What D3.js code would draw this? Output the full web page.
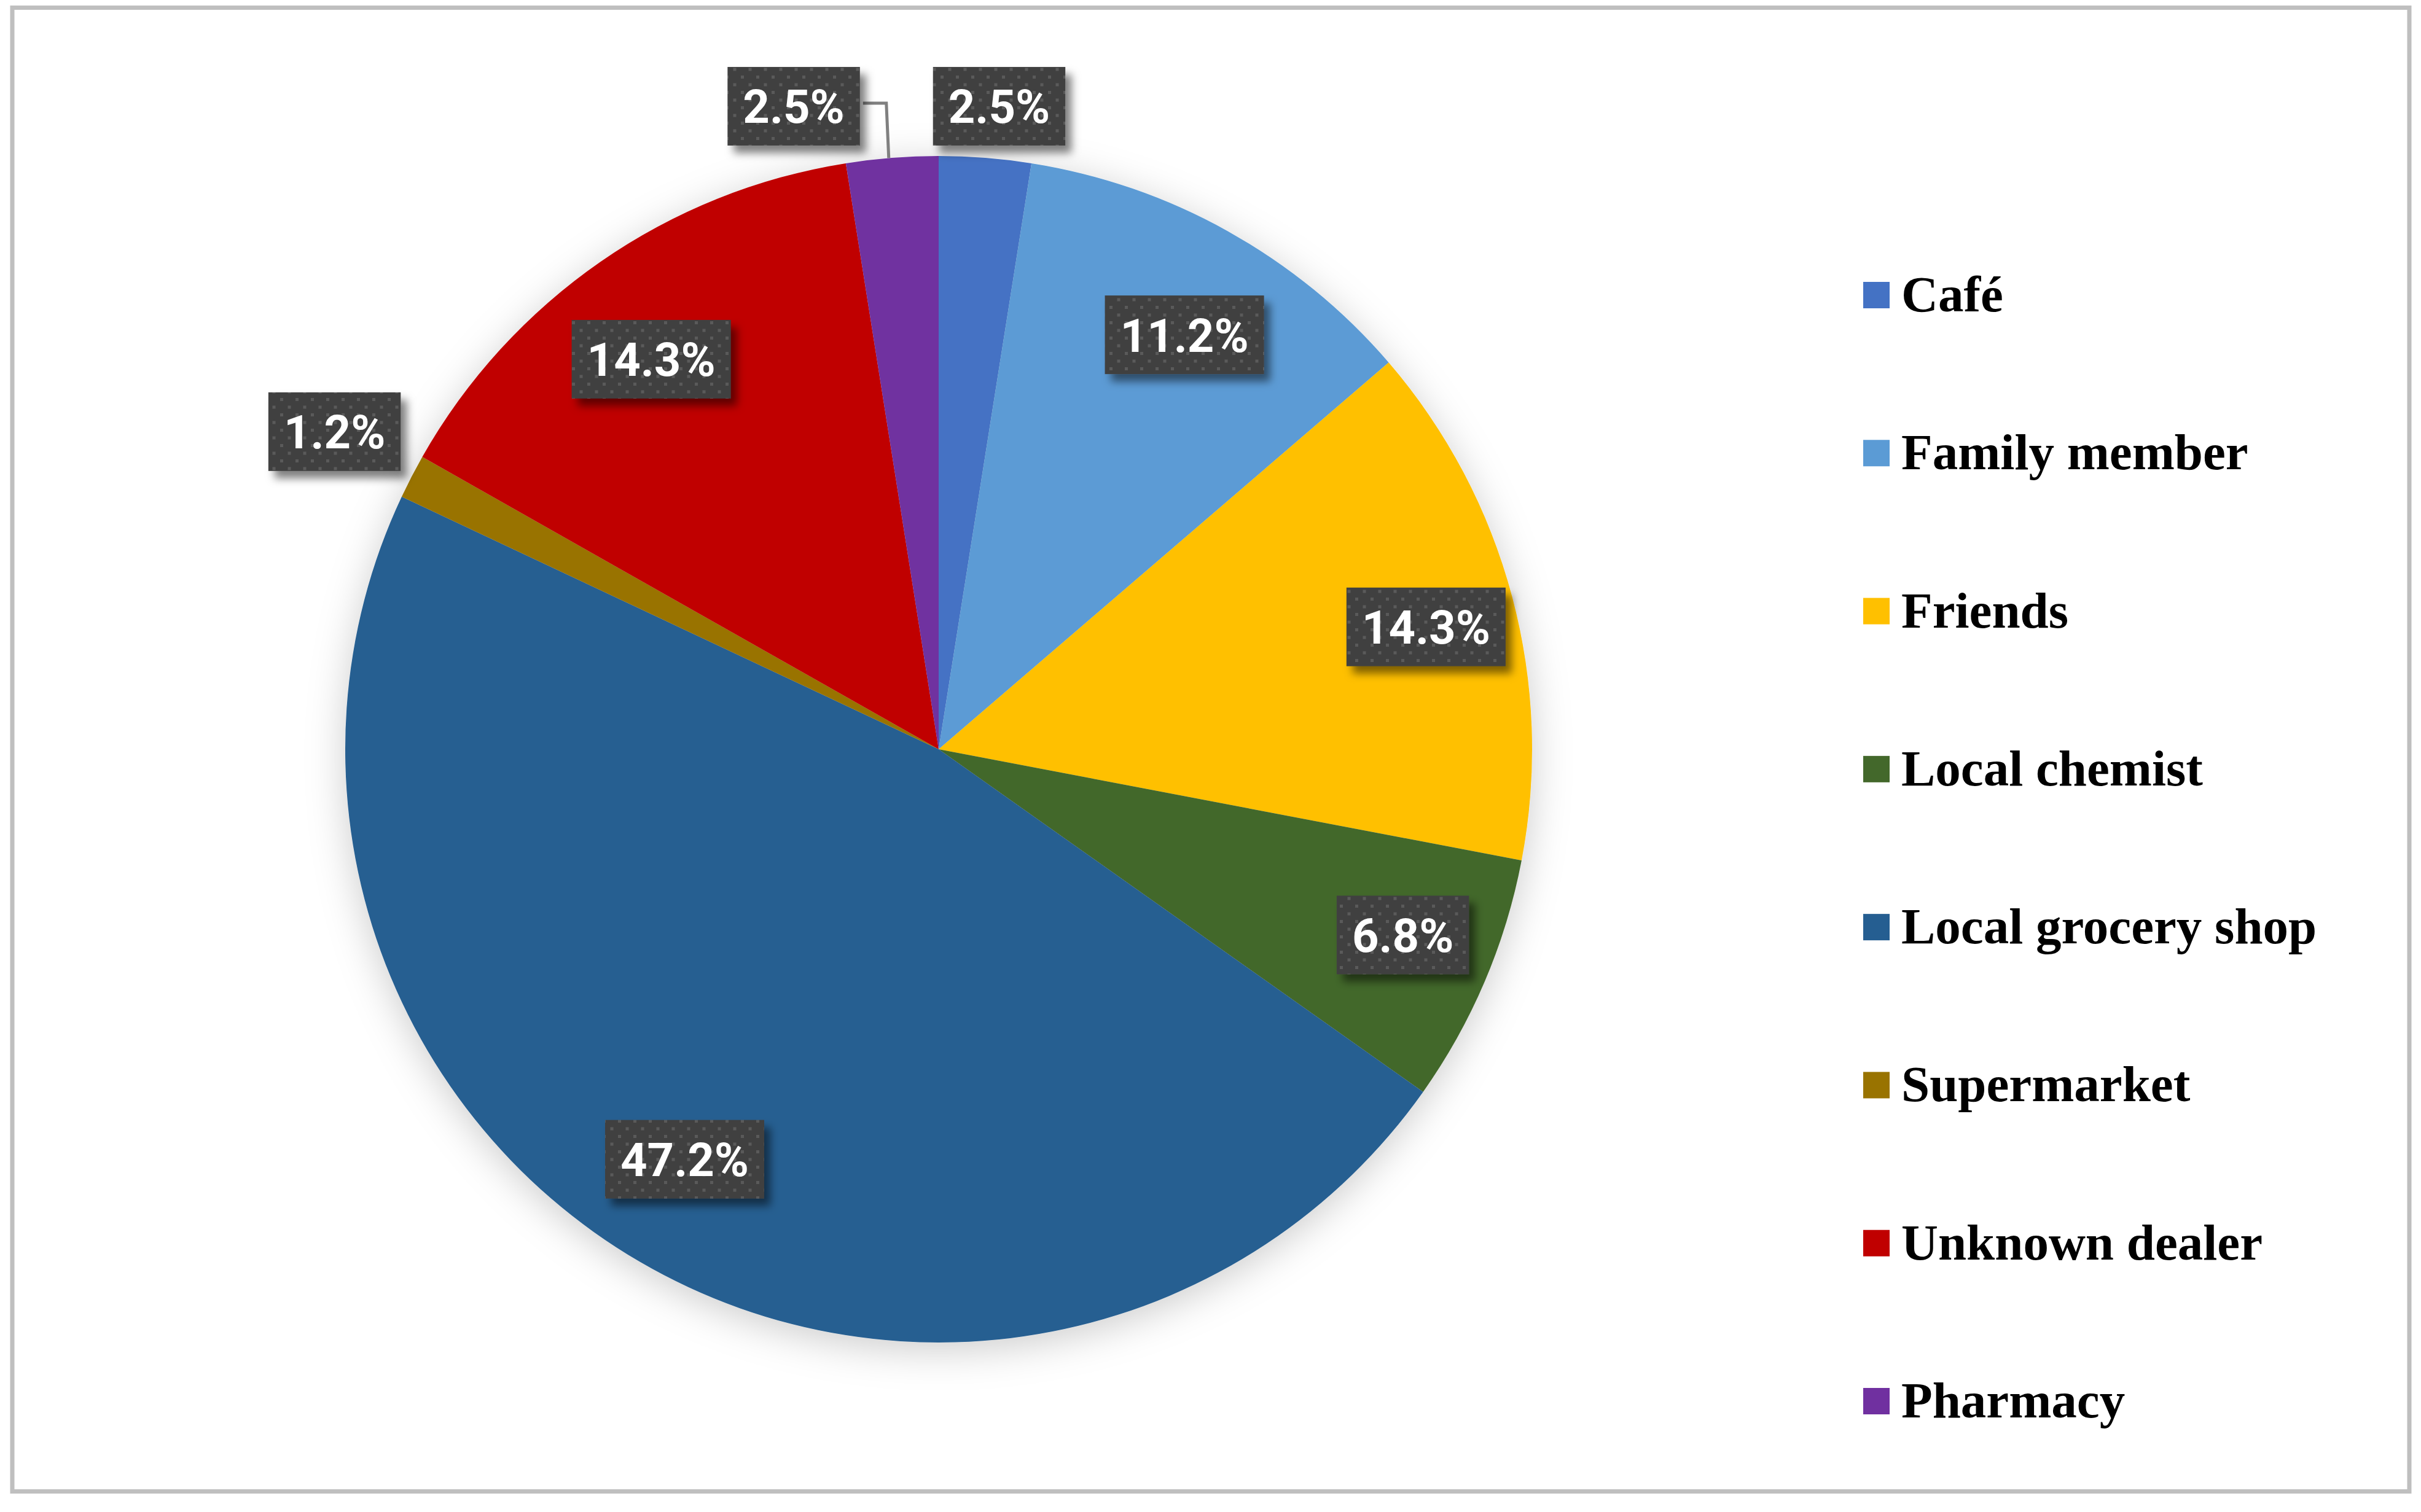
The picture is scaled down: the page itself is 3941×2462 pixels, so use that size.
<!DOCTYPE html>
<html>
<head>
<meta charset="utf-8">
<title>Where it was bought</title>
<script src="https://cdn.jsdelivr.net/npm/d3@7"></script>
<style>
body { margin: 0; background: #fff; }
.legend text { font-family: "Times New Roman", "Liberation Serif", serif; font-weight: bold; font-size: 83px; fill: #000; }
.lbl text { font-family: Roboto, "Liberation Sans", sans-serif; font-weight: bold; font-size: 76px; fill: #fff; }
</style>
</head>
<body>
<script>
// data (percent of respondents)
var categories = ["Café", "Family member", "Friends", "Local chemist", "Local grocery shop", "Supermarket", "Unknown dealer", "Pharmacy"];
var shares = [2.5, 11.2, 14.3, 6.8, 47.2, 1.2, 14.3, 2.5];
var colors = ["#4472c4", "#5b9bd5", "#ffc000", "#43682b", "#255e91", "#997300", "#c00000", "#7030a0"];

var width = 3941, height = 2462;
var cx = 1528, cy = 1220, radius = 966;

var svg = d3.select("body").append("svg")
    .attr("width", width)
    .attr("height", height);

svg.append("rect").attr("width", width).attr("height", height).attr("fill", "#fff");

var defs = svg.append("defs");

var pf = defs.append("filter").attr("id", "pieShadow")
    .attr("x", "-20%").attr("y", "-20%").attr("width", "140%").attr("height", "140%");
pf.append("feDropShadow").attr("dx", 0).attr("dy", 12).attr("stdDeviation", 32)
    .attr("flood-color", "#000").attr("flood-opacity", 0.2);

var lf = defs.append("filter").attr("id", "boxShadow")
    .attr("x", "-30%").attr("y", "-30%").attr("width", "160%").attr("height", "160%");
lf.append("feDropShadow").attr("dx", 10).attr("dy", 12).attr("stdDeviation", 7)
    .attr("flood-color", "#000").attr("flood-opacity", 0.5);

// dotted fill of the data labels
var pat = defs.append("pattern").attr("id", "dots")
    .attr("width", 25).attr("height", 25).attr("patternUnits", "userSpaceOnUse");
pat.append("rect").attr("width", 25).attr("height", 25).attr("fill", "#404040");
pat.append("rect").attr("x", 3).attr("y", 3).attr("width", 5).attr("height", 5).attr("fill", "#5a5a5a");
pat.append("rect").attr("x", 15.5).attr("y", 15.5).attr("width", 5).attr("height", 5).attr("fill", "#5a5a5a");

// outer chart border
svg.append("rect")
    .attr("x", 20).attr("y", 12.5)
    .attr("width", 3902).attr("height", 2416)
    .attr("fill", "none").attr("stroke", "#bfbfbf").attr("stroke-width", 7);

var color = d3.scaleOrdinal().domain(categories).range(colors);

var pie = d3.pie().sort(null).value(function(d) { return d.v; });
var rows = categories.map(function(c, i) { return { name: c, v: shares[i] }; });
var arcs = pie(rows);

var arc = d3.arc().innerRadius(0).outerRadius(radius);

var g = svg.append("g").attr("transform", "translate(" + cx + "," + cy + ")");

g.append("g").attr("filter", "url(#pieShadow)")
  .selectAll("path")
  .data(arcs)
  .enter().append("path")
    .attr("d", arc)
    .attr("fill", function(d) { return color(d.data.name); });

// data labels
var boxH = 128, padX = 25, gap = 20;
var lblG = g.append("g");
var labels = arcs.map(function(d) {
  var lg = lblG.append("g").attr("class", "lbl");
  var rect = lg.append("rect").attr("fill", "url(#dots)").attr("filter", "url(#boxShadow)");
  var t = lg.append("text")
      .attr("text-anchor", "middle")
      .attr("dy", "0.36em")
      .text(d3.format(".1f")(d.data.v) + "%");
  var w = t.node().getComputedTextLength() + 2 * padX;
  var mid = (d.startAngle + d.endAngle) / 2;
  var ux = Math.sin(mid), uy = -Math.cos(mid);
  var x, y, outside = d.data.v < 5;
  if (!outside) {
    // best-fit style: a little wider than tall
    x = ux * radius * 0.85;
    y = uy * radius * 0.80;
  } else {
    var cl = function(v) { return Math.max(-1, Math.min(1, v * 2.5)); };
    x = ux * (radius + gap) + cl(ux) * w / 2;
    y = uy * (radius + gap) + cl(uy) * boxH / 2;
  }
  return { g: lg, rect: rect, text: t, w: w, x: x, y: y, mid: mid, outside: outside, leader: false };
});

// push overlapping outside labels apart (the later one moves left)
labels.forEach(function(a, i) {
  labels.forEach(function(b, j) {
    if (j <= i || !a.outside || !b.outside) return;
    var overlapX = Math.abs(a.x - b.x) < (a.w + b.w) / 2 + 40;
    var overlapY = Math.abs(a.y - b.y) < boxH;
    if (overlapX && overlapY) {
      b.x = a.x - a.w / 2 - 119 - b.w / 2;
      b.leader = true;
    }
  });
});

labels.forEach(function(l) {
  l.rect.attr("x", l.x - l.w / 2).attr("y", l.y - boxH / 2)
      .attr("width", l.w).attr("height", boxH);
  l.text.attr("x", l.x).attr("y", l.y);
  if (l.leader) {
    var x0 = l.x + l.w / 2 + 5, y0 = l.y - 5;
    var x1 = x0 + 38;
    var x2 = x1 + 4;
    var y2 = -Math.sqrt(radius * radius - x2 * x2);
    g.insert("path", ":scope > g:last-child")
        .attr("d", d3.line()([[x0, y0], [x1, y0], [x2, y2]]))
        .attr("fill", "none")
        .attr("stroke", "#808080")
        .attr("stroke-width", 5);
  }
});

// legend
var legend = svg.append("g").attr("class", "legend");
var legendY = d3.scalePoint().domain(categories).range([507, 2308]);
var item = legend.selectAll("g")
    .data(categories)
    .enter().append("g")
    .attr("transform", function(d) { return "translate(3033," + legendY(d) + ")"; });
item.append("rect")
    .attr("y", -48).attr("width", 43).attr("height", 43)
    .attr("fill", function(d) { return color(d); });
item.append("text")
    .attr("x", 62)
    .text(function(d) { return d; });
</script>
</body>
</html>
